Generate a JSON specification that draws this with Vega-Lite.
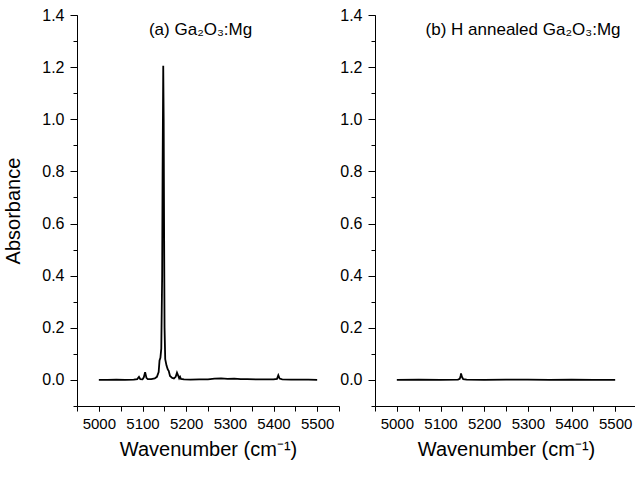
{
  "$schema": "https://vega.github.io/schema/vega-lite/v6.json",
  "padding": {"left": 3, "top": 7, "right": 0, "bottom": 5},
  "background": "white",
  "config": {
    "font": "Liberation Sans",
    "view": {"stroke": null},
    "axis": {
      "grid": false,
      "domainColor": "black",
      "domainWidth": 1,
      "tickColor": "black",
      "tickWidth": 1,
      "labelColor": "black",
      "titleColor": "black",
      "labelFont": "Liberation Sans",
      "titleFont": "Liberation Sans",
      "titleFontSize": 20,
      "titleFontWeight": "normal"
    }
  },
  "datasets": {
    "a": [
      {"wavenumber": 5000, "absorbance": 0.000},
      {"wavenumber": 5020, "absorbance": 0.000},
      {"wavenumber": 5040, "absorbance": 0.001},
      {"wavenumber": 5060, "absorbance": 0.000},
      {"wavenumber": 5080, "absorbance": 0.001},
      {"wavenumber": 5088, "absorbance": 0.003},
      {"wavenumber": 5092, "absorbance": 0.012},
      {"wavenumber": 5095, "absorbance": 0.003},
      {"wavenumber": 5100, "absorbance": 0.002},
      {"wavenumber": 5103, "absorbance": 0.010},
      {"wavenumber": 5106, "absorbance": 0.030},
      {"wavenumber": 5109, "absorbance": 0.008},
      {"wavenumber": 5112, "absorbance": 0.003},
      {"wavenumber": 5120, "absorbance": 0.003},
      {"wavenumber": 5128, "absorbance": 0.006},
      {"wavenumber": 5133, "absorbance": 0.012},
      {"wavenumber": 5137, "absorbance": 0.030},
      {"wavenumber": 5139, "absorbance": 0.075},
      {"wavenumber": 5141, "absorbance": 0.085},
      {"wavenumber": 5143, "absorbance": 0.12},
      {"wavenumber": 5145, "absorbance": 0.40},
      {"wavenumber": 5146, "absorbance": 0.80},
      {"wavenumber": 5147.5, "absorbance": 1.205},
      {"wavenumber": 5148.5, "absorbance": 1.0},
      {"wavenumber": 5149.5, "absorbance": 0.55},
      {"wavenumber": 5150.5, "absorbance": 0.20},
      {"wavenumber": 5152, "absorbance": 0.08},
      {"wavenumber": 5155, "absorbance": 0.055},
      {"wavenumber": 5158, "absorbance": 0.040},
      {"wavenumber": 5160, "absorbance": 0.035},
      {"wavenumber": 5163, "absorbance": 0.015},
      {"wavenumber": 5168, "absorbance": 0.008},
      {"wavenumber": 5172, "absorbance": 0.006},
      {"wavenumber": 5176, "absorbance": 0.012},
      {"wavenumber": 5179, "absorbance": 0.028},
      {"wavenumber": 5181, "absorbance": 0.020},
      {"wavenumber": 5184, "absorbance": 0.006},
      {"wavenumber": 5186, "absorbance": 0.012},
      {"wavenumber": 5188, "absorbance": 0.004},
      {"wavenumber": 5195, "absorbance": 0.002},
      {"wavenumber": 5210, "absorbance": 0.001},
      {"wavenumber": 5230, "absorbance": 0.002},
      {"wavenumber": 5250, "absorbance": 0.002},
      {"wavenumber": 5265, "absorbance": 0.005},
      {"wavenumber": 5280, "absorbance": 0.006},
      {"wavenumber": 5295, "absorbance": 0.004},
      {"wavenumber": 5310, "absorbance": 0.005},
      {"wavenumber": 5325, "absorbance": 0.003},
      {"wavenumber": 5340, "absorbance": 0.003},
      {"wavenumber": 5360, "absorbance": 0.002},
      {"wavenumber": 5380, "absorbance": 0.002},
      {"wavenumber": 5400, "absorbance": 0.002},
      {"wavenumber": 5408, "absorbance": 0.004},
      {"wavenumber": 5411, "absorbance": 0.018},
      {"wavenumber": 5414, "absorbance": 0.005},
      {"wavenumber": 5420, "absorbance": 0.002},
      {"wavenumber": 5440, "absorbance": 0.001},
      {"wavenumber": 5460, "absorbance": 0.001},
      {"wavenumber": 5480, "absorbance": 0.001},
      {"wavenumber": 5500, "absorbance": 0.000}
    ],
    "b": [
      {"wavenumber": 5000, "absorbance": 0.000},
      {"wavenumber": 5050, "absorbance": 0.001},
      {"wavenumber": 5100, "absorbance": 0.000},
      {"wavenumber": 5140, "absorbance": 0.001},
      {"wavenumber": 5144, "absorbance": 0.004},
      {"wavenumber": 5146, "absorbance": 0.015},
      {"wavenumber": 5147, "absorbance": 0.025},
      {"wavenumber": 5149, "absorbance": 0.012},
      {"wavenumber": 5152, "absorbance": 0.003},
      {"wavenumber": 5160, "absorbance": 0.001},
      {"wavenumber": 5200, "absorbance": 0.000},
      {"wavenumber": 5250, "absorbance": 0.001},
      {"wavenumber": 5300, "absorbance": 0.001},
      {"wavenumber": 5350, "absorbance": 0.000},
      {"wavenumber": 5400, "absorbance": 0.001},
      {"wavenumber": 5450, "absorbance": 0.000},
      {"wavenumber": 5500, "absorbance": 0.000}
    ],
    "labels": [
      {"panel": "a", "label": "(a)  Ga₂O₃:Mg"},
      {"panel": "b", "label": "(b)  H annealed Ga₂O₃:Mg"}
    ]
  },
  "hconcat": [
    {
      "width": 262,
      "height": 391,
      "resolve": {"axis": {"x": "independent", "y": "independent"}},
      "layer": [
        {
          "data": {"name": "a"},
          "mark": {"type": "line", "color": "black", "strokeWidth": 1.8},
          "encoding": {
            "x": {
              "field": "wavenumber", "type": "quantitative",
              "scale": {"domain": [4950, 5550], "nice": false, "zero": false},
              "axis": {
                "orient": "bottom",
                "title": "Wavenumber (cm⁻¹)",
                "values": [5000, 5100, 5200, 5300, 5400, 5500],
                "format": "d",
                "labelFontSize": 15,
                "labelOverlap": false,
                "tickSize": 5,
                "labelPadding": 5,
                "titlePadding": 8
              }
            },
            "y": {
              "field": "absorbance", "type": "quantitative",
              "scale": {"domain": [-0.1, 1.4], "nice": false, "zero": false},
              "axis": {
                "orient": "left",
                "title": "Absorbance",
                "values": [0, 0.2, 0.4, 0.6, 0.8, 1.0, 1.2, 1.4],
                "format": ".1f",
                "labelFontSize": 16,
                "labelOverlap": false,
                "tickSize": 7,
                "labelPadding": 6,
                "titlePadding": 18
              }
            }
          }
        },
        {
          "data": {"name": "a"},
          "mark": {"type": "line", "opacity": 0},
          "encoding": {
            "x": {
              "field": "wavenumber", "type": "quantitative",
              "axis": {
                "orient": "bottom",
                "title": null,
                "labels": false,
                "domain": false,
                "values": [4950, 5000, 5050, 5100, 5150, 5200, 5250, 5300, 5350, 5400, 5450, 5500, 5550],
                "tickSize": 5
              }
            },
            "y": {
              "field": "absorbance", "type": "quantitative",
              "axis": {
                "orient": "left",
                "title": null,
                "labels": false,
                "domain": false,
                "values": [-0.1, 0, 0.1, 0.2, 0.3, 0.4, 0.5, 0.6, 0.7, 0.8, 0.9, 1.0, 1.1, 1.2, 1.3, 1.4],
                "tickSize": 4
              }
            }
          }
        },
        {
          "data": {"name": "labels"},
          "transform": [{"filter": "datum.panel == 'a'"}],
          "mark": {"type": "text", "fontSize": 17, "font": "Liberation Sans", "color": "black", "align": "center", "baseline": "middle"},
          "encoding": {
            "x": {"datum": 5233, "type": "quantitative", "axis": null},
            "y": {"datum": 1.343, "type": "quantitative", "axis": null},
            "text": {"field": "label"}
          }
        }
      ]
    },
    {
      "width": 262,
      "height": 391,
      "resolve": {"axis": {"x": "independent", "y": "independent"}},
      "layer": [
        {
          "data": {"name": "b"},
          "mark": {"type": "line", "color": "black", "strokeWidth": 1.8},
          "encoding": {
            "x": {
              "field": "wavenumber", "type": "quantitative",
              "scale": {"domain": [4950, 5550], "nice": false, "zero": false},
              "axis": {
                "orient": "bottom",
                "title": "Wavenumber (cm⁻¹)",
                "values": [5000, 5100, 5200, 5300, 5400, 5500],
                "format": "d",
                "labelFontSize": 15,
                "labelOverlap": false,
                "tickSize": 5,
                "labelPadding": 5,
                "titlePadding": 8
              }
            },
            "y": {
              "field": "absorbance", "type": "quantitative",
              "scale": {"domain": [-0.1, 1.4], "nice": false, "zero": false},
              "axis": {
                "orient": "left",
                "title": null,
                "values": [0, 0.2, 0.4, 0.6, 0.8, 1.0, 1.2, 1.4],
                "format": ".1f",
                "labelFontSize": 16,
                "labelOverlap": false,
                "tickSize": 7,
                "labelPadding": 6
              }
            }
          }
        },
        {
          "data": {"name": "b"},
          "mark": {"type": "line", "opacity": 0},
          "encoding": {
            "x": {
              "field": "wavenumber", "type": "quantitative",
              "axis": {
                "orient": "bottom",
                "title": null,
                "labels": false,
                "domain": false,
                "values": [4950, 5000, 5050, 5100, 5150, 5200, 5250, 5300, 5350, 5400, 5450, 5500, 5550],
                "tickSize": 5
              }
            },
            "y": {
              "field": "absorbance", "type": "quantitative",
              "axis": {
                "orient": "left",
                "title": null,
                "labels": false,
                "domain": false,
                "values": [-0.1, 0, 0.1, 0.2, 0.3, 0.4, 0.5, 0.6, 0.7, 0.8, 0.9, 1.0, 1.1, 1.2, 1.3, 1.4],
                "tickSize": 4
              }
            }
          }
        },
        {
          "data": {"name": "labels"},
          "transform": [{"filter": "datum.panel == 'b'"}],
          "mark": {"type": "text", "fontSize": 17, "font": "Liberation Sans", "color": "black", "align": "center", "baseline": "middle"},
          "encoding": {
            "x": {"datum": 5289, "type": "quantitative", "axis": null},
            "y": {"datum": 1.343, "type": "quantitative", "axis": null},
            "text": {"field": "label"}
          }
        }
      ]
    }
  ],
  "spacing": 36,
  "bounds": "flush"
}
